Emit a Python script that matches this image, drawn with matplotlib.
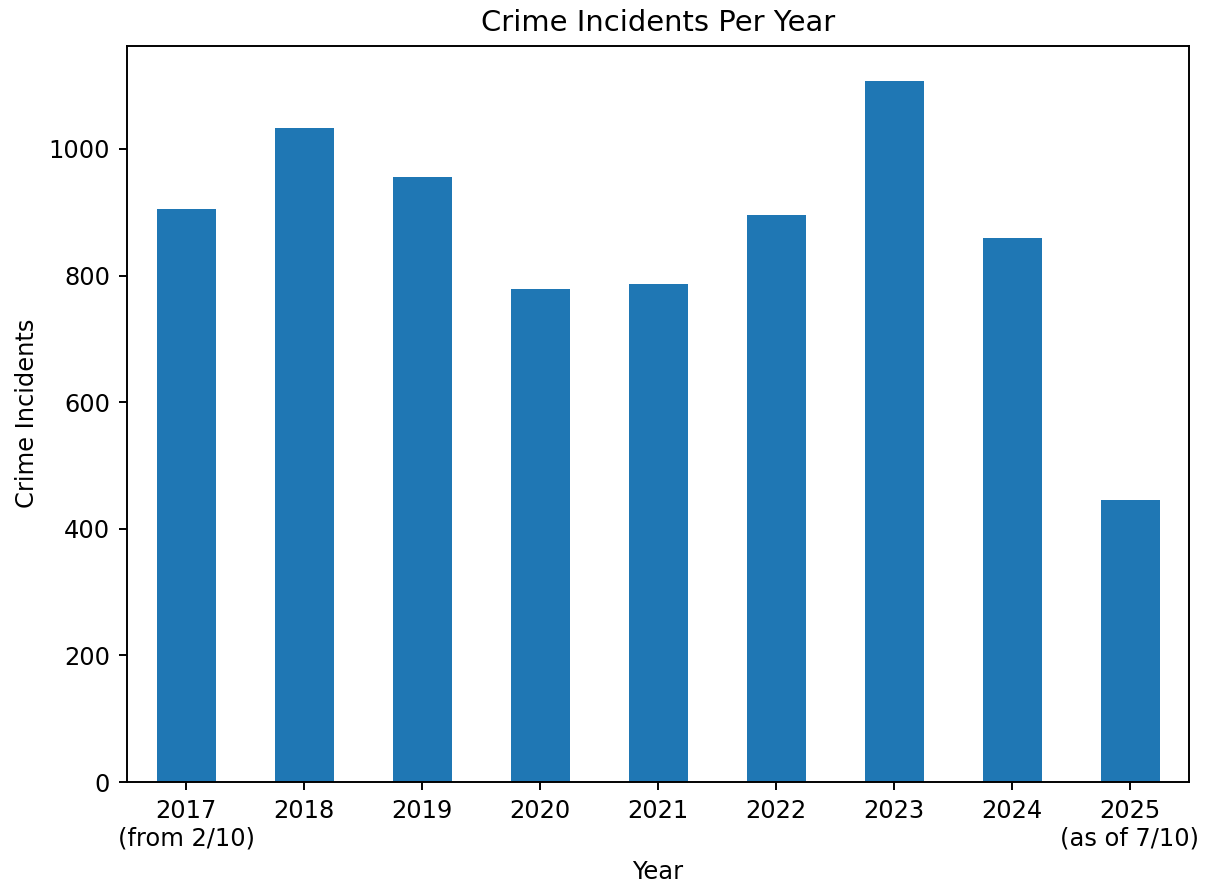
import matplotlib
matplotlib.use("Agg")
import matplotlib.pyplot as plt

years = ["2017\n(from 2/10)", "2018", "2019", "2020", "2021", "2022", "2023", "2024", "2025\n(as of 7/10)"]
incidents = [905, 1033, 956, 778, 786, 896, 1108, 859, 446]

s = 1.16
plt.rcParams.update({
    "font.size": 10 * s,
    "axes.titlesize": 12 * s,
    "axes.linewidth": 0.8 * s,
    "xtick.major.size": 3.5 * s,
    "ytick.major.size": 3.5 * s,
    "xtick.major.width": 0.8 * s,
    "ytick.major.width": 0.8 * s,
    "xtick.major.pad": 3.5 * s,
    "ytick.major.pad": 3.5 * s,
    "axes.titlepad": 6 * s,
    "axes.labelpad": 4 * s,
})

fig = plt.figure(figsize=(1208/150, 888/150), dpi=150)
ax = fig.add_axes([127/1208, 1-782/888, (1189-127)/1208, (782-45.5)/888])
x = list(range(len(years)))
ax.bar(x, incidents, width=0.5, color="#1f77b4")
ax.set_xlim(-0.5, len(years)-0.5)
ax.set_xticks(x)
ax.set_xticklabels(years, rotation=0)
ax.set_title("Crime Incidents Per Year")
ax.set_xlabel("Year")
ax.set_ylabel("Crime Incidents")
fig.savefig("out.png", dpi=150)
